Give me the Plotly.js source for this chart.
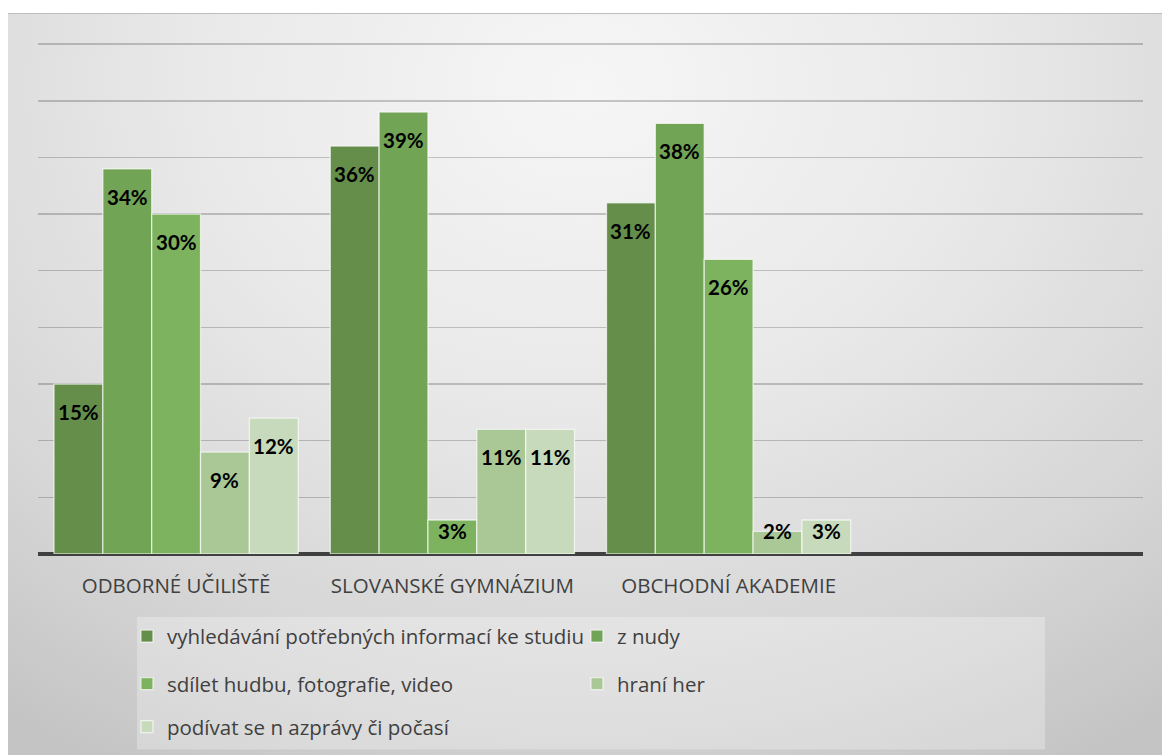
<!DOCTYPE html>
<html>
<head>
<meta charset="utf-8">
<script src="https://cdn.plot.ly/plotly-3.0.1.min.js"></script>
<style>
  html, body { margin: 0; padding: 0; background: #ffffff; }
  #panel {
    position: absolute; left: 8px; top: 13px; width: 1154px; height: 742px;
    border-top: 1px solid #bdbdbd; box-sizing: border-box;
    background: radial-gradient(ellipse 85% 105% at 50% 10%, #f6f6f6 0%, #e9e9e9 40%, #d6d6d6 75%, #c4c4c4 100%);
  }
  #chart { position: absolute; left: 0; top: 0; }
</style>
</head>
<body>
<div id="panel"><div id="chart"></div></div>
<script>
// schools on the x axis
const schools = ['ODBORNÉ UČILIŠTĚ', 'SLOVANSKÉ GYMNÁZIUM', 'OBCHODNÍ AKADEMIE'];

// answers (one bar series each), values in %
const seriesNames = [
    'vyhledávání potřebných informací ke studiu',
    'z nudy',
    'sdílet hudbu, fotografie, video',
    'hraní her',
    'podívat se n azprávy či počasí'
];
const infoStudy = [15, 36, 31];
const boredom   = [34, 39, 38];
const sharing   = [30, 3, 26];
const games     = [9, 11, 2];
const news      = [12, 11, 3];
const seriesValues = [infoStudy, boredom, sharing, games, news];

const colors = ['#658e4b', '#72a456', '#7db35e', '#a9c896', '#c7dbbc'];
const legendIds = ['legend', 'legend', 'legend2', 'legend2', 'legend3'];

const W = 1154, H = 742;
const margin = {l: 30, r: 19, t: 29, b: 202, autoexpand: false};
const plotW = W - margin.l - margin.r;
const plotH = H - margin.t - margin.b;
const yMax = 45.1;
const bargap = 0.116;
const pxPerUnit = plotH / yMax;
const barW = (plotW / 4) * (1 - bargap) / seriesNames.length;

const data = seriesNames.map(function(name, i) {
    return {
        type: 'bar',
        name: name,
        x: schools,
        y: seriesValues[i],
        marker: {color: colors[i], line: {color: 'rgba(255,255,255,0.65)', width: 1.3}},
        legend: legendIds[i],
        hoverinfo: 'skip'
    };
});

// value labels, inside the top of each bar
const annotations = [];
seriesValues.forEach(function(vals, i) {
    vals.forEach(function(v, j) {
        annotations.push({
            x: schools[j], y: v, xref: 'x', yref: 'y',
            text: v + '%', showarrow: false,
            xshift: (i - 2) * barW,
            yshift: -Math.min(28, v * pxPerUnit - 23),
            yanchor: 'middle',
            font: {family: 'Lato, sans-serif', size: 20.5, color: '#000000', weight: 'bold'}
        });
    });
});

const legendFont = {family: '"Open Sans", sans-serif', size: 20.5, color: '#404040'};
const legendBase = {
    orientation: 'h', xanchor: 'left', yanchor: 'middle',
    x: 0.0805, bgcolor: 'rgba(0,0,0,0)', font: legendFont,
    entrywidth: 405, itemclick: false, itemdoubleclick: false
};

const layout = {
    width: W, height: H,
    margin: margin,
    paper_bgcolor: 'rgba(0,0,0,0)',
    plot_bgcolor: 'rgba(0,0,0,0)',
    barmode: 'group',
    bargap: bargap,
    bargroupgap: 0,
    showlegend: true,
    legend: Object.assign({}, legendBase, {y: -0.161}),
    legend2: Object.assign({}, legendBase, {y: -0.254}),
    legend3: Object.assign({}, legendBase, {y: -0.338}),
    xaxis: {
        type: 'category',
        range: [-0.5, 3.5],
        showgrid: false,
        showline: false,
        automargin: false,
        ticks: 'outside', ticklen: 13, tickcolor: 'rgba(0,0,0,0)',
        tickfont: {family: '"Open Sans", sans-serif', size: 20.5, color: '#404040'},
        fixedrange: true
    },
    yaxis: {
        range: [0, yMax],
        tickvals: [0, 5, 10, 15, 20, 25, 30, 35, 40, 45],
        showticklabels: false,
        automargin: false,
        gridcolor: 'rgba(0,0,0,0.2)',
        gridwidth: 1.5,
        zeroline: true,
        zerolinecolor: '#404040',
        zerolinewidth: 4,
        fixedrange: true
    },
    shapes: [{
        type: 'rect', xref: 'paper', yref: 'paper', layer: 'below',
        x0: 0.0896, x1: 0.9113, y0: -0.3824, y1: -0.1235,
        fillcolor: 'rgba(255,255,255,0.28)', line: {width: 0}
    }],
    annotations: annotations
};

Plotly.newPlot('chart', data, layout, {displayModeBar: false, staticPlot: true});
</script>
</body>
</html>
